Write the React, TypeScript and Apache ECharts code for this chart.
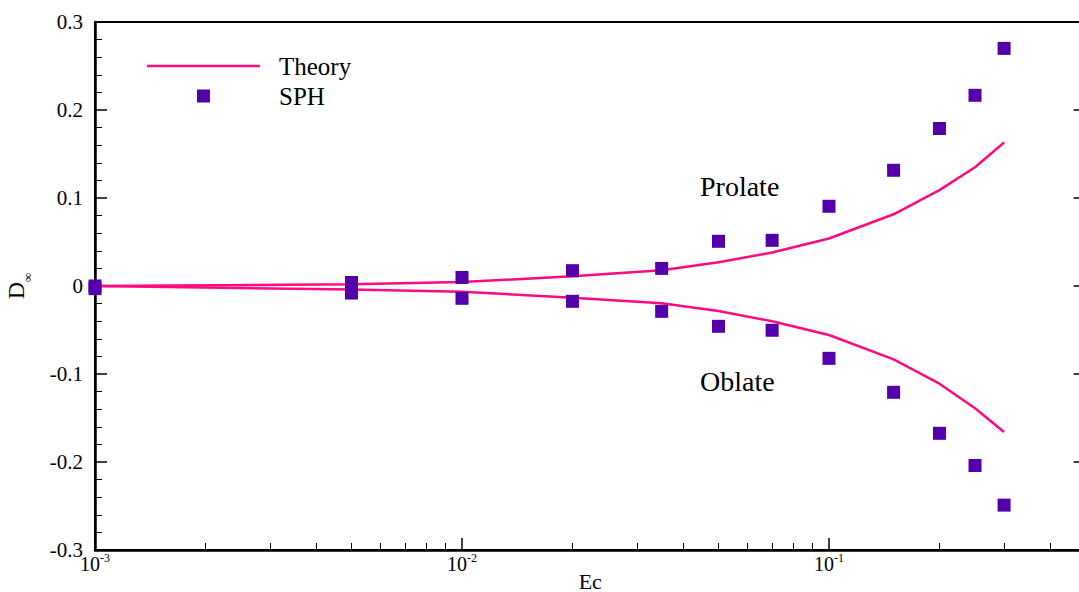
import React, { useEffect, useRef } from "react";
import * as echarts from "echarts";

const ecValues = [0.001, 0.005, 0.01, 0.02, 0.035, 0.05, 0.07, 0.1, 0.15, 0.2, 0.25, 0.3];
const theoryProlate = [0.0, 0.002, 0.0045, 0.011, 0.018, 0.027, 0.038, 0.054, 0.0815, 0.109, 0.135, 0.163];
const theoryOblate = [0.0, -0.004, -0.0065, -0.0133, -0.0197, -0.0284, -0.040, -0.0557, -0.0833, -0.111, -0.139, -0.166];
const sphProlate = [0.0, 0.004, 0.0097, 0.0174, 0.020, 0.0508, 0.0519, 0.0906, 0.1315, 0.179, 0.2167, 0.270];
const sphOblate = [-0.003, -0.008, -0.014, -0.0174, -0.0288, -0.0458, -0.0503, -0.0822, -0.1208, -0.1674, -0.204, -0.249];
const majorXTicks = [0.001, 0.01, 0.1];
const minorXTicks = [
  0.002, 0.003, 0.004, 0.005, 0.006, 0.007, 0.008, 0.009,
  0.02, 0.03, 0.04, 0.05, 0.06, 0.07, 0.08, 0.09,
  0.2, 0.3, 0.4,
];
const annotations = [
  { label: "Prolate", x: 700, y: 186 },
  { label: "Oblate", x: 700, y: 381 },
];

const FONT = "'Liberation Serif', 'Times New Roman', serif";
const PINK = "#FF0A80";
const PURPLE = "#5400AA";

export default function App() {
  const ref = useRef<HTMLDivElement>(null);
  useEffect(() => {
    if (!ref.current) return;
    const chart = echarts.init(ref.current, undefined, { renderer: "svg" });
    const pairs = (ys: number[]) => ecValues.map((x, i) => [x, ys[i]]);
    const option = {
      animation: false,
      backgroundColor: "#fff",
      textStyle: { fontFamily: FONT },
      grid: {
        left: 95,
        top: 22,
        bottom: 42,
        right: -6.5,
        containLabel: false,
        outerBoundsMode: "none",
        show: true,
        borderColor: "#000",
        borderWidth: 2,
        backgroundColor: "transparent",
      },
      legend: {
        orient: "vertical",
        left: 147,
        top: 51,
        padding: 0,
        itemWidth: 113,
        itemHeight: 14,
        itemGap: 0,
        selectedMode: false,
        textStyle: {
          fontFamily: FONT,
          fontSize: 25,
          color: "#000",
          lineHeight: 30,
          padding: [0, 0, 0, 14],
        },
        data: [
          {
            name: "Theory",
            icon: "path://M0,0h0.01v0.01h-0.01Z M0,5.75h113v2.5h-113Z M112.99,13.99h0.01v0.01h-0.01Z",
          },
          {
            name: "SPH",
            icon: "path://M0,0h0.01v0.01h-0.01Z M50,0.5h13v13h-13Z M112.99,13.99h0.01v0.01h-0.01Z",
          },
        ],
      },
      xAxis: [
        {
          type: "log",
          logBase: 10,
          min: 0.001,
          max: 0.5,
          position: "bottom",
          name: "Ec",
          nameLocation: "middle",
          nameGap: 21,
          nameMoveOverlap: false,
          nameTextStyle: { fontFamily: FONT, fontSize: 22, lineHeight: 20, color: "#000" },
          axisLine: { show: true, onZero: false, lineStyle: { color: "#000", width: 2.5 } },
          axisTick: { show: true, inside: true, length: 12, customValues: majorXTicks, lineStyle: { color: "#000", width: 1.5 } },
          axisLabel: {
            show: true,
            customValues: majorXTicks,
            margin: 2,
            formatter: (v: number) => {
              const e = Math.round(Math.log10(v));
              if (Math.abs(Math.log10(v) - e) > 1e-6) return "";
              return `{b|10}{s|${e}}`;
            },
            rich: {
              b: { fontFamily: FONT, fontSize: 20, color: "#000", lineHeight: 22, verticalAlign: "bottom" },
              s: { fontFamily: FONT, fontSize: 12, color: "#000", lineHeight: 12, verticalAlign: "top" },
            },
          },
          splitLine: { show: false },
          minorTick: { show: false },
        },
        {
          type: "log",
          logBase: 10,
          min: 0.001,
          max: 0.5,
          position: "bottom",
          gridIndex: 0,
          axisLine: { show: false, onZero: false },
          axisTick: { show: true, inside: true, length: 7, customValues: minorXTicks, lineStyle: { color: "#000", width: 1 } },
          axisLabel: { show: false },
          splitLine: { show: false },
        },
      ],
      yAxis: [
        {
          type: "value",
          min: -0.3,
          max: 0.3,
          interval: 0.1,
          position: "left",
          name: "{a|D}{b|∞}",
          nameLocation: "middle",
          nameRotate: 90,
          nameGap: 61,
          nameMoveOverlap: false,
          nameTextStyle: {
            rich: {
              a: { fontFamily: FONT, fontSize: 24, color: "#000", lineHeight: 30, verticalAlign: "top" },
              b: { fontFamily: FONT, fontSize: 13, color: "#000", lineHeight: 13, verticalAlign: "bottom" },
            },
          },
          axisLine: { show: true, onZero: false, lineStyle: { color: "#000", width: 2.5 } },
          axisTick: { show: true, inside: true, length: 12, lineStyle: { color: "#000", width: 1.5 } },
          minorTick: { show: true, splitNumber: 5, length: 7, lineStyle: { color: "#000", width: 1 } },
          axisLabel: {
            fontFamily: FONT,
            fontSize: 21,
            color: "#000",
            margin: 12,
            formatter: (v: number) => String(Math.round(v * 10) / 10),
          },
          splitLine: { show: false },
        },
        {
          type: "value",
          min: -0.3,
          max: 0.3,
          interval: 0.1,
          position: "right",
          axisLine: { show: true, onZero: false, lineStyle: { color: "#000", width: 2.5 } },
          axisTick: { show: true, inside: true, length: 12, lineStyle: { color: "#000", width: 1.5 } },
          axisLabel: { show: false },
          splitLine: { show: false },
        },
      ],
      graphic: annotations.map((a) => ({
        type: "text",
        x: a.x,
        y: a.y,
        style: {
          text: a.label,
          fontFamily: FONT,
          fontSize: 28,
          fill: "#000",
          textVerticalAlign: "middle",
          verticalAlign: "middle",
        },
      })),
      series: [
        {
          name: "Theory",
          type: "line",
          data: pairs(theoryProlate),
          symbol: "none",
          lineStyle: { color: PINK, width: 2.5 },
          itemStyle: { color: PINK },
          z: 2,
        },
        {
          name: "Theory",
          type: "line",
          data: pairs(theoryOblate),
          symbol: "none",
          lineStyle: { color: PINK, width: 2.5 },
          itemStyle: { color: PINK },
          z: 2,
        },
        {
          name: "SPH",
          type: "scatter",
          data: pairs(sphProlate),
          symbol: "rect",
          symbolSize: 13,
          itemStyle: { color: PURPLE, opacity: 1 },
          z: 3,
        },
        {
          name: "SPH",
          type: "scatter",
          data: pairs(sphOblate),
          symbol: "rect",
          symbolSize: 13,
          itemStyle: { color: PURPLE, opacity: 1 },
          z: 3,
        },
      ],
    };
    chart.setOption(option as any);
    return () => chart.dispose();
  }, []);
  return (
    <div
      ref={ref}
      style={{ position: "absolute", left: 0, top: 0, width: 1079, height: 592 }}
    />
  );
}
